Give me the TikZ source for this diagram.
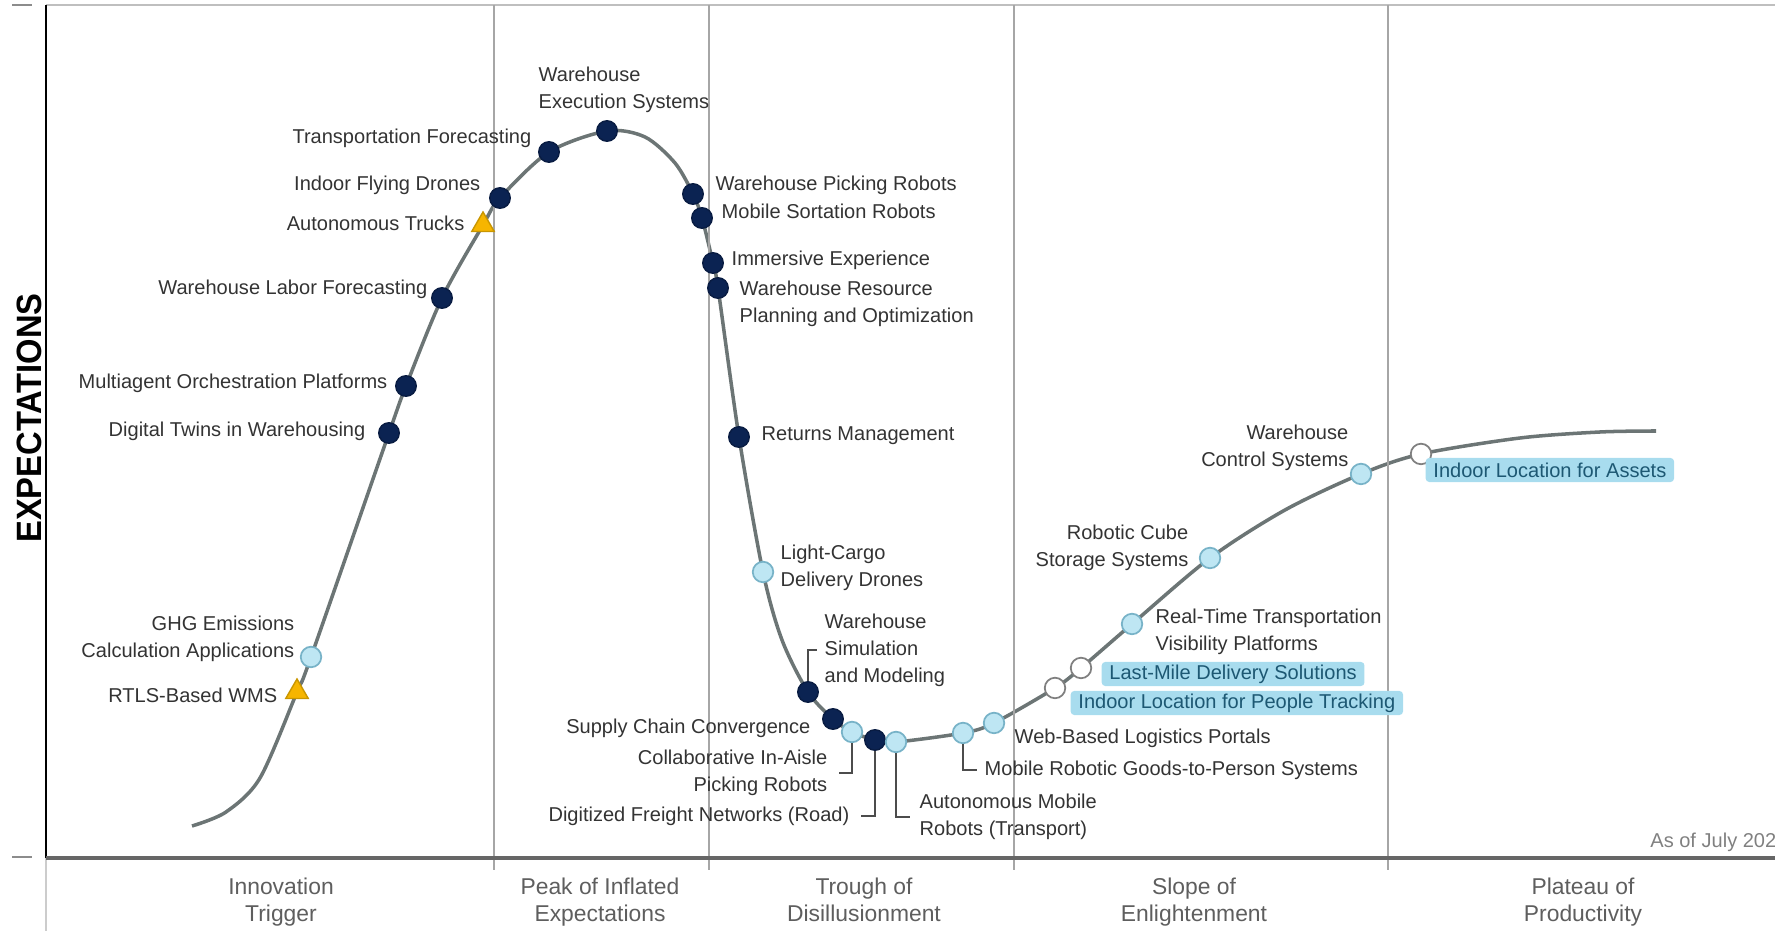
\documentclass[tikz,border=0pt]{standalone}
\usepackage{graphicx}
\usepackage{fontspec}
\setmainfont{Liberation Sans}
\usetikzlibrary{shapes.geometric,backgrounds}

\definecolor{navy}{HTML}{0B2352}
\definecolor{skyfill}{HTML}{BEE6F3}
\definecolor{skyline}{HTML}{78B3C8}
\definecolor{amber}{HTML}{F6B500}
\definecolor{amberline}{HTML}{C99600}
\definecolor{curvegray}{HTML}{6C7575}
\definecolor{hlfill}{HTML}{A8DCEE}
\definecolor{hltext}{HTML}{1D5873}
\definecolor{phasegray}{HTML}{5E5E5E}

\begin{document}
\begin{tikzpicture}[x=0.01cm,y=-0.01cm,
    every node/.style={inner sep=0pt,font=\fontsize{5.7}{7.7}\selectfont,text=black!80},
    navydot/.style={circle,fill=navy,draw=navy!80!black,minimum size=0.205cm},
    skydot/.style={circle,fill=skyfill,draw=skyline,line width=0.5pt,minimum size=0.205cm},
    opendot/.style={circle,fill=white,draw=black!50,line width=0.5pt,minimum size=0.205cm},
    tri/.style={regular polygon,regular polygon sides=3,fill=amber,draw=amberline,line width=0.4pt,minimum size=0.26cm},
    hlbox/.style={fill=hlfill,text=hltext,rounded corners=1pt,inner xsep=2.2pt,minimum height=0.24cm},
    phaselbl/.style={align=center,anchor=north,text=phasegray,font=\fontsize{6.5}{7.7}\selectfont},
    leader/.style={draw=black!70,line width=0.4pt}]

    \useasboundingbox (0,0) rectangle (1775,931);

    % frame and phase dividers
    \draw[black!25,line width=0.6pt] (46,5) -- (1775,5);
    \draw[black!45,line width=0.5pt] (12,5) -- (32,5) (12,857) -- (32,857);
    \draw[black!20,line width=0.5pt] (46,858) -- (46,931);
    \draw[black!35,line width=0.5pt] (494,5) -- (494,870) (709,5) -- (709,870)
        (1014,5) -- (1014,870) (1388,5) -- (1388,870);
    \draw[black,line width=0.6pt] (46,5) -- (46,858);
    \draw[black!60,line width=0.9pt] (46,858) -- (1775,858);

    \node[rotate=90,text=black,font=\bfseries\fontsize{10}{12}\selectfont] (yaxis) at (29,418) {\scalebox{0.93}[1]{EXPECTATIONS}};
    \node[anchor=east,text=black!50] (asof) at (1777,842) {As of July 202};

    \node[phaselbl] (innov) at (281,877) {Innovation\\Trigger};
    \node[phaselbl] (peak) at (600,877) {Peak of Inflated\\Expectations};
    \node[phaselbl] (trough) at (864,877) {Trough of\\Disillusionment};
    \node[phaselbl] (slope) at (1194,877) {Slope of\\Enlightenment};
    \node[phaselbl] (plateau) at (1583,877) {Plateau of\\Productivity};

    % technologies on the curve
    \node[tri] (rtls) at (297,692) {};
    \node[skydot] (ghg) at (311,657) {};
    \node[navydot] (twins) at (389,433) {};
    \node[navydot] (multi) at (406,386) {};
    \node[navydot] (labor) at (442,298) {};
    \node[tri] (trucks) at (483,225) {};
    \node[navydot] (drones) at (500,198) {};
    \node[navydot] (transp) at (549,152) {};
    \node[navydot] (wes) at (607,131) {};
    \node[navydot] (picking) at (693,194) {};
    \node[navydot] (sortation) at (702,218) {};
    \node[navydot] (immersive) at (713,263) {};
    \node[navydot] (wrpo) at (718,288) {};
    \node[navydot] (returns) at (739,437) {};
    \node[skydot] (cargo) at (763,572) {};
    \node[navydot] (wsim) at (808,692) {};
    \node[navydot] (scc) at (833,719) {};
    \node[skydot] (collab) at (852,732) {};
    \node[navydot] (freight) at (875,740) {};
    \node[skydot] (amr) at (896,742) {};
    \node[skydot] (gtp) at (963,733) {};
    \node[skydot] (web) at (994,723) {};
    \node[opendot] (people) at (1055,688) {};
    \node[opendot] (lastmile) at (1081,668) {};
    \node[skydot] (realtime) at (1132,624) {};
    \node[skydot] (cube) at (1210,558) {};
    \node[skydot] (wcs) at (1361,474) {};
    \node[opendot] (assets) at (1421,454) {};
    \coordinate (cstart) at (192,826);
    \coordinate (cend) at (1656,431);

    \begin{pgfonlayer}{background}
    \draw[curvegray,line width=1pt] plot[smooth,tension=0.5] coordinates {(cstart) (226,812) (260,778)
        (rtls.center) (ghg.center) (twins.center) (multi.center) (labor.center) (trucks.center)
        (drones.center) (transp.center) (wes.center) (645,137) (675,163) (picking.center)
        (sortation.center) (immersive.center) (wrpo.center) (returns.center) (cargo.center)
        (782,640) (wsim.center) (scc.center) (collab.center) (freight.center) (amr.center)
        (gtp.center) (web.center) (people.center) (lastmile.center) (realtime.center)
        (cube.center) (1285,510) (wcs.center) (assets.center) (1520,438) (1600,432) (cend)};
    \end{pgfonlayer}

    % labels
    \node[anchor=west,align=left] (weslbl) at (538,90) {Warehouse\\Execution Systems};
    \node[anchor=east] (transplbl) at (532,138) {Transportation Forecasting};
    \node[anchor=east] (droneslbl) at (481,185) {Indoor Flying Drones};
    \node[anchor=east] (truckslbl) at (465,223) {Autonomous Trucks};
    \node[anchor=east] (laborlbl) at (428,289) {Warehouse Labor Forecasting};
    \node[anchor=east] (multilbl) at (388,383) {Multiagent Orchestration Platforms};
    \node[anchor=east] (twinslbl) at (366,431) {Digital Twins in Warehousing};
    \node[anchor=east,align=right] (ghglbl) at (295,639) {GHG Emissions\\Calculation Applications};
    \node[anchor=east] (rtlslbl) at (278,695) {RTLS-Based WMS};
    \node[anchor=west] (pickinglbl) at (715,185) {Warehouse Picking Robots};
    \node[anchor=west] (sortationlbl) at (721,211) {Mobile Sortation Robots};
    \node[anchor=west] (immersivelbl) at (731,260) {Immersive Experience};
    \node[anchor=west,align=left] (wrpolbl) at (739,304) {Warehouse Resource\\Planning and Optimization};
    \node[anchor=west] (returnslbl) at (761,436) {Returns Management};
    \node[anchor=west,align=left] (cargolbl) at (780,568) {Light-Cargo\\Delivery Drones};
    \node[anchor=west,align=left] (wsimlbl) at (824,650) {Warehouse\\Simulation\\and Modeling};
    \node[anchor=east] (scclbl) at (811,728) {Supply Chain Convergence};
    \node[anchor=east,align=right] (collablbl) at (828,773) {Collaborative In-Aisle\\Picking Robots};
    \node[anchor=east] (freightlbl) at (850,816) {Digitized Freight Networks (Road)};
    \node[anchor=west,align=left] (amrlbl) at (919,817) {Autonomous Mobile\\Robots (Transport)};
    \node[anchor=west] (gtplbl) at (984,770) {Mobile Robotic Goods-to-Person Systems};
    \node[anchor=west] (weblbl) at (1014,738) {Web-Based Logistics Portals};
    \node[hlbox,anchor=west] (peoplelbl) at (1070,703) {Indoor Location for People Tracking};
    \node[hlbox,anchor=west] (lastmilelbl) at (1101,674) {Last-Mile Delivery Solutions};
    \node[anchor=west,align=left] (realtimelbl) at (1155,632) {Real-Time Transportation\\Visibility Platforms};
    \node[anchor=east,align=right] (cubelbl) at (1189,548) {Robotic Cube\\Storage Systems};
    \node[anchor=east,align=right] (wcslbl) at (1349,448) {Warehouse\\Control Systems};
    \node[hlbox,anchor=west] (assetslbl) at (1425,470) {Indoor Location for Assets};

    % leader lines
    \draw[leader] (wsim.north) |- ([xshift=-2pt]wsimlbl.west);
    \draw[leader] (collab.south) |- ([xshift=3pt]collablbl.east);
    \draw[leader] (freight.south) |- ([xshift=3pt]freightlbl.east);
    \draw[leader] (amr.south) |- ([xshift=-2.5pt]amrlbl.west);
    \draw[leader] (gtp.south) |- ([xshift=-2pt]gtplbl.west);
\end{tikzpicture}
\end{document}
